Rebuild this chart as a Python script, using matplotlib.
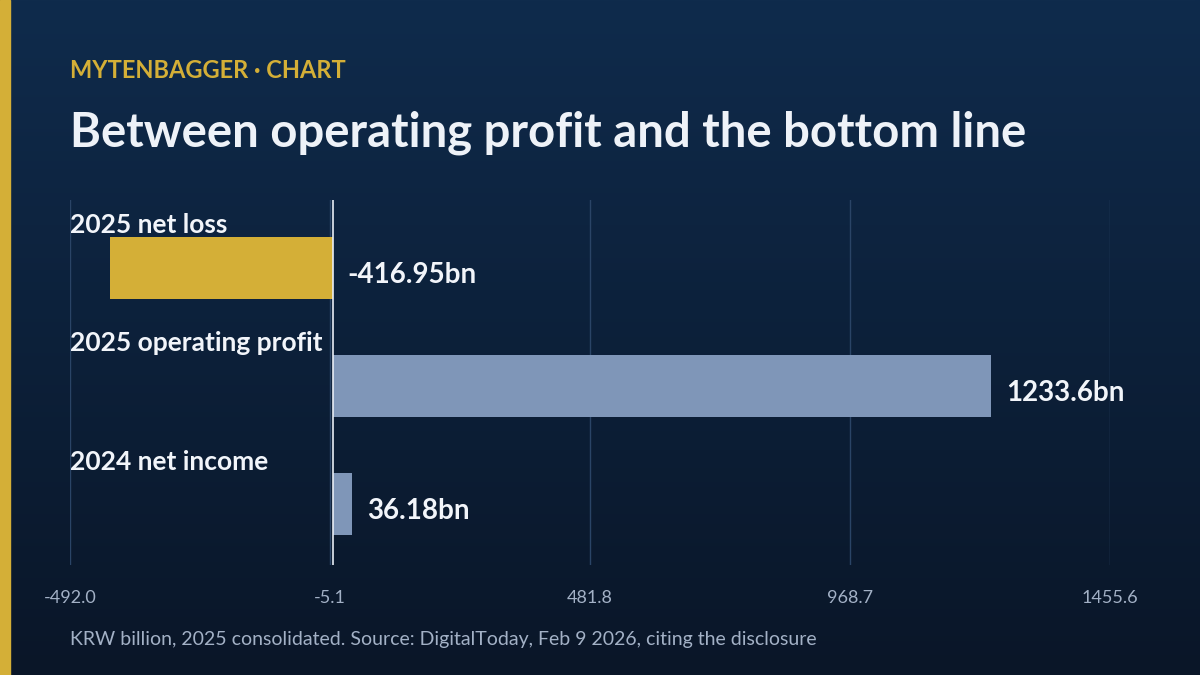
import numpy as np
import matplotlib
matplotlib.use("Agg")
import matplotlib.pyplot as plt

plt.rcParams["font.family"] = ["Lato", "DejaVu Sans"]

categories = ["2025 net loss", "2025 operating profit", "2024 net income"]
values = [-416.95, 1233.6, 36.18]
value_labels = ["-416.95bn", "1233.6bn", "36.18bn"]
bar_colors = ["#d4af37", "#7f96b8", "#7f96b8"]
ticks = [-492.0, -5.1, 481.8, 968.7, 1455.6]

fig = plt.figure(figsize=(12, 6.75), dpi=100)

# background gradient
bg = fig.add_axes([0, 0, 1, 1])
grad = np.linspace(0, 1, 256).reshape(-1, 1)
cmap = matplotlib.colors.LinearSegmentedColormap.from_list("bg", ["#0f2b4c", "#0a1628"])
bg.imshow(grad, aspect="auto", cmap=cmap, extent=[0, 1, 0, 1], origin="upper")
bg.add_patch(plt.Rectangle((0, 0), 10 / 1200, 1, color="#d4af37"))
bg.set_xlim(0, 1)
bg.set_ylim(0, 1)
bg.axis("off")

fig.text(70 / 1200, 1 - 71 / 675, "MYTENBAGGER · CHART", color="#d4af37",
         fontsize=17, fontweight="bold", va="center")
fig.text(70 / 1200, 1 - 133 / 675, "Between operating profit and the bottom line",
         color="#eef2f8", fontsize=34, fontweight="bold", va="center")
fig.text(70 / 1200, 1 - 640 / 675,
         "KRW billion, 2025 consolidated. Source: DigitalToday, Feb 9 2026, citing the disclosure",
         color="#a3b1c6", fontsize=14, va="center")

ax = fig.add_axes([70 / 1200, 1 - 565 / 675, 1040 / 1200, 365 / 675])
ax.patch.set_alpha(0)
ys = np.arange(len(categories))
ax.barh(ys, values, height=0.525, color=bar_colors, zorder=3)
ax.set_xlim(ticks[0], ticks[-1])
ax.set_ylim(2.517, -0.576)
ax.set_xticks(ticks)
ax.set_xticklabels([f"{t:.1f}" for t in ticks], color="#a3b1c6", fontsize=13)
ax.tick_params(axis="x", length=0, pad=18)
ax.set_yticks([])
for s in ax.spines.values():
    s.set_visible(False)
ax.grid(axis="x", color="#2a4466", linewidth=1, zorder=0)
ax.axvline(0, color="#e8edf5", linewidth=1.2, zorder=4)

span = ticks[-1] - ticks[0]
for y, v, cat, lab in zip(ys, values, categories, value_labels):
    ax.text(ticks[0], y - 0.36, cat, color="#f2f5fa", fontsize=19,
            fontweight="bold", va="center", ha="left", zorder=5)
    x = max(v, 0) + span * 0.0145
    ax.text(x, y + 0.06, lab, color="#f2f5fa", fontsize=20, fontweight="bold",
            va="center", ha="left", clip_on=False, zorder=5)

fig.savefig("out.png", dpi=100)
